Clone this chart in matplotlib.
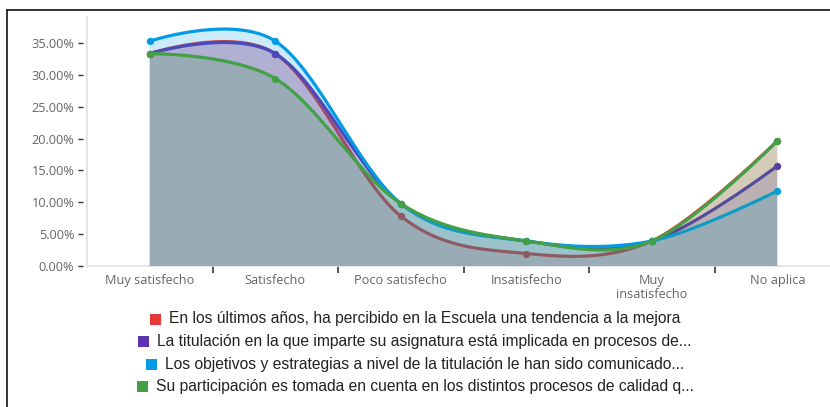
import numpy as np
import matplotlib
matplotlib.use("Agg")
import matplotlib.pyplot as plt
from matplotlib.patches import Rectangle
from matplotlib.lines import Line2D

categories = ["Muy satisfecho", "Satisfecho", "Poco satisfecho", "Insatisfecho",
              "Muy\ninsatisfecho", "No aplica"]
series_names = [
    "En los últimos años, ha percibido en la Escuela una tendencia a la mejora",
    "La titulación en la que imparte su asignatura está implicada en procesos de...",
    "Los objetivos y estrategias a nivel de la titulación le han sido comunicado...",
    "Su participación es tomada en cuenta en los distintos procesos de calidad q...",
]
red_vals = [33.33, 33.33, 7.84, 1.96, 3.92, 19.61]
purple_vals = [33.33, 33.33, 9.80, 3.92, 3.92, 15.69]
blue_vals = [35.29, 35.29, 9.80, 3.92, 3.92, 11.76]
green_vals = [33.33, 29.41, 9.80, 3.92, 3.92, 19.61]
series_vals = [red_vals, purple_vals, blue_vals, green_vals]
colors = ["#E53935", "#5E35B1", "#039BE5", "#43A047"]
yticks = [0, 5, 10, 15, 20, 25, 30, 35]


def cardinal(xs, ys, n=60):
    """d3 curveCardinal (tension 0) sampled as cubic Bezier segments."""
    xs = list(map(float, xs)); ys = list(map(float, ys))
    m = len(xs)
    k = 1.0 / 6.0
    px, py = [xs[0]], [ys[0]]
    for i in range(m - 1):
        x0, y0 = (xs[i + 1], ys[i + 1]) if i == 0 else (xs[i - 1], ys[i - 1])
        x1, y1 = xs[i], ys[i]
        x2, y2 = xs[i + 1], ys[i + 1]
        x3, y3 = (xs[i], ys[i]) if i + 2 >= m else (xs[i + 2], ys[i + 2])
        c1x, c1y = x1 + k * (x2 - x0), y1 + k * (y2 - y0)
        c2x, c2y = x2 + k * (x1 - x3), y2 + k * (y1 - y3)
        t = np.linspace(0, 1, n)[1:]
        a = (1 - t) ** 3; b = 3 * (1 - t) ** 2 * t; c = 3 * (1 - t) * t ** 2; d = t ** 3
        px.extend(a * x1 + b * c1x + c * c2x + d * x2)
        py.extend(a * y1 + b * c1y + c * c2y + d * y2)
    return np.array(px), np.array(py)


W, H = 830, 407
AXW = 753
fig = plt.figure(figsize=(W / 100, H / 100), dpi=100)
ax = fig.add_axes([87 / W, (H - 266) / H, AXW / W, 249 / H])
ax.set_xlim(-0.5, len(categories) - 0.5)
ax.set_ylim(0, 39.07)

x = np.arange(len(categories))
for i, (vals, col) in enumerate(zip(series_vals, colors)):
    cx, cy = cardinal(x, vals)
    polyx = np.concatenate([cx, [cx[-1], cx[0]]])
    polyy = np.concatenate([cy, [0, 0]])
    ax.fill(polyx, polyy, color=col, alpha=0.2, lw=0, zorder=2 + i * 3)
    ax.plot(cx, cy, color=col, lw=2.3, zorder=3 + i * 3, solid_capstyle="round")
    ax.plot(x, vals, "o", color=col, ms=5.3, zorder=4 + i * 3, mec="none")

for s in ["top", "right"]:
    ax.spines[s].set_visible(False)
ax.spines["left"].set_color("#e0e0e0")
ax.spines["bottom"].set_color("#e0e0e0")
ax.spines["left"].set_linewidth(1.2)
ax.spines["bottom"].set_linewidth(1.2)
ax.spines["left"].set_bounds(-0.03 * 39.07 / 10, 39.07)

tick_font = dict(family=["Open Sans", "DejaVu Sans"], size=9.2, color="#666666")
ax.set_yticks(yticks)
ax.set_yticklabels([f"{v:.2f}%" for v in yticks], **tick_font)
ax.tick_params(axis="y", length=0, pad=9.2)
# short detached tick marks left of the y axis
ax.hlines(yticks, -9 / AXW, -4.5 / AXW, transform=ax.get_yaxis_transform(),
          colors="#333333", lw=1.0, clip_on=False)

ax.set_xticks(x)
ax.set_xticklabels(categories, **tick_font, linespacing=1.1)
ax.tick_params(axis="x", which="major", length=0, pad=5.5)
ax.set_xticks(np.arange(0.5, len(categories) - 1, 1.0), minor=True)
ax.tick_params(axis="x", which="minor", length=5, width=1.2, color="#333333")

# figure border
fig.add_artist(Line2D([7 / W, 7 / W], [0, (H - 10) / H], color="#222222", lw=1.3))
fig.add_artist(Line2D([7 / W, 1], [(H - 10) / H, (H - 10) / H], color="#222222", lw=1.3))

# legend (each row centered)
fig.canvas.draw()
renderer = fig.canvas.get_renderer()
leg_family = ["Liberation Sans", "DejaVu Sans"]
size = 10.0
probe = fig.text(0, 0, series_names[0], family=leg_family, size=size)
wpx = probe.get_window_extent(renderer).width
size = size * 514.0 / wpx
probe.remove()
row_y = [319, 341.5, 364, 386.5]
sq = 11
gap = 8
for name, col, yy in zip(series_names, colors, row_y):
    t = fig.text(0, (H - yy) / H, name, va="center", ha="left",
                 family=leg_family, size=size, color="#222222")
    bb = t.get_window_extent(renderer)
    total = sq + gap + bb.width
    left = 415 - total / 2
    t.set_x((left + sq + gap) / W)
    fig.add_artist(Rectangle((left / W, (H - yy - sq / 2) / H), sq / W, sq / H,
                             transform=fig.transFigure, color=col, lw=0))

fig.savefig("out.png", dpi=100)
